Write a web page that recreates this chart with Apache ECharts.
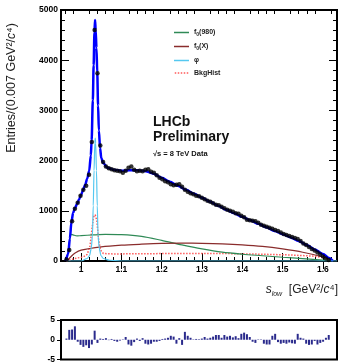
<!DOCTYPE html>
<html>
<head>
<meta charset="utf-8">
<script src="https://cdn.jsdelivr.net/npm/echarts@6/dist/echarts.min.js"></script>
<style>
  html, body { margin: 0; padding: 0; background: #fff; }
  #chart { width: 341px; height: 364px; }
</style>
</head>
<body>
<div id="chart"></div>
<script>
// histogram binning (0.007 GeV^2/c^4 per bin, as on the y title)
const BIN_LO = 0.96
const BIN_W = 0.007

// data entries per bin
const dataV = [
  30, 220, 790, 1040, 1160, 1300, 1420, 1500, 1720, 2370,
  4600, 3740, 2300, 1970, 1880, 1850, 1830, 1810, 1800, 1790,
  1760, 1800, 1860, 1880, 1820, 1790, 1800, 1790, 1820, 1830,
  1780, 1760, 1710, 1660, 1630, 1590, 1570, 1530, 1510, 1520,
  1530, 1480, 1420, 1380, 1350, 1330, 1300, 1290, 1260, 1230,
  1200, 1180, 1150, 1120, 1110, 1080, 1050, 1020, 1000, 980,
  950, 940, 900, 870, 820, 810, 800, 790, 760, 720,
  700, 680, 660, 640, 620, 600, 570, 540, 520, 500,
  480, 460, 440, 400, 350, 320, 280, 240, 210, 170,
  130, 90, 50, 20,
]

// pull per bin (bottom panel)
const pullV = [
  0.3, 2.5, 2.6, 3.4, -0.5, -1.3, -1.8, -1.4, -2.1, -1.2,
  2.3, -0.8, 0.3, 0.2, 0.4, -0.1, 0.2, -0.3, -0.5, -0.2,
  0.1, 0.7, -1.2, -1.5, -0.6, 0.3, -0.3, 0.4, -1.0, -1.2,
  -1.0, -0.5, -0.5, -0.3, 0.2, 0.3, 0.5, 1.0, 0.8, -1.0,
  0.4, -1.3, 2.0, 1.0, 0.5, 0.1, 0.2, 0.1, 0.3, 0.7,
  0.3, 0.5, 0.8, 1.2, 1.2, 0.5, 1.2, 0.8, 1.0, 0.6,
  0.9, 0.4, 1.5, 1.8, 1.4, 0.7, -0.5, -0.8, 0.1, 0.1,
  -1.0, -1.2, -1.2, 1.0, 1.5, -0.6, -1.0, -0.8, -1.0, -0.7,
  -0.9, -1.0, 1.5, 0.5, 0.3, -1.0, -1.3, -1.2, -0.3, -1.2,
  -0.8, -0.5, 0.5, 1.2,
]

// total fit (blue)
const fitS = [0.962, 0.968, 0.972, 0.976, 0.980, 0.985, 0.990, 0.995, 1.000, 1.005,
  1.010, 1.015, 1.020, 1.024, 1.026, 1.029, 1.031, 1.033, 1.0345, 1.036,
  1.038, 1.040, 1.042, 1.044, 1.047, 1.050, 1.055, 1.065, 1.08, 1.10,
  1.12, 1.14, 1.16, 1.18, 1.20, 1.22, 1.24, 1.26, 1.28, 1.30,
  1.32, 1.34, 1.36, 1.38, 1.40, 1.42, 1.44, 1.46, 1.48, 1.50,
  1.52, 1.54, 1.56, 1.58, 1.60, 1.615, 1.625]
const fitV = [0, 150, 450, 780, 960, 1060, 1140, 1230, 1320, 1420,
  1520, 1640, 1800, 2100, 2400, 3200, 3900, 4550, 4800, 4600,
  4250, 3750, 3100, 2600, 2250, 2050, 1950, 1860, 1820, 1800,
  1810, 1810, 1790, 1740, 1660, 1580, 1500, 1420, 1340, 1260,
  1180, 1100, 1020, 950, 880, 810, 740, 670, 600, 535,
  470, 400, 320, 230, 140, 60, 0]

// f0(980) component
const f980S = [0.963, 0.968, 0.972, 0.976, 0.980, 0.990, 1.00, 1.03, 1.06, 1.10,
  1.15, 1.20, 1.25, 1.30, 1.35, 1.40, 1.45, 1.50, 1.55, 1.60, 1.625]
const f980V = [0, 200, 450, 530, 520, 500, 505, 520, 530, 525,
  490, 410, 320, 240, 175, 135, 105, 75, 48, 18, 0]

// f0(X) component
const fXS = [0.965, 0.975, 0.985, 1.00, 1.05, 1.10, 1.15, 1.20, 1.25, 1.30,
  1.35, 1.40, 1.45, 1.50, 1.55, 1.60, 1.625]
const fXV = [0, 90, 160, 215, 280, 315, 335, 350, 355, 352,
  342, 322, 290, 240, 175, 80, 0]

// phi component
const phiS = [0.963, 1.000, 1.015, 1.021, 1.025, 1.028, 1.030, 1.032, 1.034, 1.035,
  1.036, 1.038, 1.040, 1.042, 1.045, 1.049, 1.055, 1.07, 1.10, 1.635]
const phiV = [0, 0, 50, 110, 250, 500, 1100, 1800, 2350, 2450,
  2350, 1800, 1100, 500, 250, 110, 50, 15, 0, 0]

// background histogram
const bkgS = [0.963, 0.975, 0.990, 1.005, 1.015, 1.022, 1.027, 1.031, 1.035, 1.039,
  1.043, 1.048, 1.055, 1.08, 1.15, 1.25, 1.35, 1.45, 1.52, 1.58, 1.61, 1.625]
const bkgV = [0, 30, 60, 80, 130, 300, 650, 880, 920, 800,
  450, 220, 150, 140, 145, 150, 150, 135, 120, 95, 60, 20]

const xMajor = [1.0, 1.1, 1.2, 1.3, 1.4, 1.5, 1.6]
const xMinor = [0.96, 0.98, 1.02, 1.04, 1.06, 1.08, 1.12, 1.14, 1.16, 1.18, 1.22, 1.24,
  1.26, 1.28, 1.32, 1.34, 1.36, 1.38, 1.42, 1.44, 1.46, 1.48, 1.52, 1.54, 1.56, 1.58, 1.62]

const X_MIN = 0.95
const X_MAX = 1.635
const FONT = 'Liberation Sans, Arial, sans-serif'
const DOTTED_ICON = 'path://M0,0h1.5v1.5h-1.5zM3,0h1.5v1.5h-1.5zM6,0h1.5v1.5h-1.5zM9,0h1.5v1.5h-1.5zM12,0h1.5v1.5h-1.5z'

const pairs = (xs, ys) => xs.map((x, i) => [x, ys[i]])
const binCenter = i => +(BIN_LO + BIN_W * (i + 0.5)).toFixed(4)

const chart = echarts.init(document.getElementById('chart'))

const tickLabel = { fontFamily: FONT, fontSize: 8.5, fontWeight: 'bold', color: '#000' }

function xAxisBase(grid, pos, values, len) {
  return {
    type: 'value', gridIndex: grid, position: pos, min: X_MIN, max: X_MAX,
    axisLine: { show: false },
    axisTick: { show: true, inside: true, length: len, customValues: values, lineStyle: { color: '#000', width: 1 } },
    axisLabel: { show: false },
    splitLine: { show: false },
  }
}

function yMain(pos, labels) {
  return {
    type: 'value', gridIndex: 0, position: pos, min: 0, max: 5000, interval: 1000,
    axisLine: { show: false },
    axisTick: { show: true, inside: true, length: 8, lineStyle: { color: '#000', width: 1 } },
    minorTick: { show: true, splitNumber: 5, length: 4, lineStyle: { color: '#000', width: 1 } },
    axisLabel: labels ? { show: true, margin: 3, formatter: v => String(v), ...tickLabel } : { show: false },
    splitLine: { show: false },
  }
}

const legendNames = { 'f0(980)': '{t|f}{s|0}{t|(980)}', 'f0(X)': '{t|f}{s|0}{t|(X)}', 'φ': '{t|φ}', 'BkgHist': '{t|BkgHist}' }

const baseGraphics = [
  {
    type: 'text', x: 12, y: 88, rotation: Math.PI / 2,
    style: {
      text: '{n|Entries/(0.007 GeV²/}{i|c}{n|⁴)}',
      textAlign: 'center', textVerticalAlign: 'middle',
      rich: {
        n: { fontFamily: FONT, fontSize: 12.5, fill: '#222' },
        i: { fontFamily: FONT, fontSize: 12.5, fontStyle: 'italic', fill: '#222' },
      },
    },
  },
  {
    type: 'text', x: 338, y: 290,
    style: {
      text: '{i|s}{sub|low}{n|  [GeV²/}{i|c}{n|⁴]}',
      textAlign: 'right', textVerticalAlign: 'middle',
      rich: {
        n: { fontFamily: FONT, fontSize: 12, fill: '#222', lineHeight: 16 },
        i: { fontFamily: FONT, fontSize: 12, fontStyle: 'italic', fill: '#222', lineHeight: 16 },
        sub: { fontFamily: FONT, fontSize: 7, fontStyle: 'italic', fill: '#222', verticalAlign: 'bottom', lineHeight: 16 },
      },
    },
  },
  { type: 'text', x: 153, y: 122, style: { text: 'LHCb', font: 'bold 14px ' + FONT, fill: '#111', textVerticalAlign: 'middle' } },
  { type: 'text', x: 153, y: 137, style: { text: 'Preliminary', font: 'bold 14px ' + FONT, fill: '#111', textVerticalAlign: 'middle' } },
  { type: 'text', x: 153, y: 154, style: { text: '√s = 8 TeV Data', font: 'bold 7.5px ' + FONT, fill: '#111', textVerticalAlign: 'middle' } },
]

const option = {
  animation: false,
  backgroundColor: '#fff',
  grid: [
    { left: 61, right: 4, top: 10, height: 251, show: true, borderColor: '#000', borderWidth: 2, backgroundColor: 'transparent' },
    { left: 61, right: 4, top: 320, height: 43, show: true, borderColor: '#000', borderWidth: 2, backgroundColor: 'transparent' },
    { left: 61, right: 4, top: 10, height: 251 },
  ],
  xAxis: [
    xAxisBase(0, 'bottom', xMajor, 8),
    xAxisBase(0, 'top', xMajor, 8),
    xAxisBase(2, 'bottom', xMinor, 4),
    xAxisBase(2, 'top', xMinor, 4),
    { type: 'value', gridIndex: 1, min: X_MIN, max: X_MAX, show: false },
  ],
  yAxis: [
    yMain('left', true),
    yMain('right', false),
    {
      type: 'value', gridIndex: 1, min: -5, max: 5, interval: 5,
      axisLine: { show: false },
      axisTick: { show: true, length: 4, lineStyle: { color: '#000' } },
      axisLabel: { show: true, margin: 6, formatter: v => String(v), ...tickLabel },
      splitLine: { show: false },
    },
    { type: 'value', gridIndex: 2, min: 0, max: 5000, show: false },
  ],
  legend: {
    orient: 'vertical', left: 174, top: 29, padding: 0,
    itemWidth: 15, itemHeight: 1.5, itemGap: 5.5,
    data: [
      { name: 'f0(980)', icon: 'rect' },
      { name: 'f0(X)', icon: 'rect' },
      { name: 'φ', icon: 'rect' },
      { name: 'BkgHist', icon: DOTTED_ICON },
    ],
    formatter: name => legendNames[name],
    textStyle: {
      fontFamily: FONT, fontSize: 7, fontWeight: 'bold', color: '#222',
      rich: {
        t: { fontFamily: FONT, fontSize: 7, fontWeight: 'bold', color: '#222', lineHeight: 10 },
        s: { fontFamily: FONT, fontSize: 5, fontWeight: 'bold', color: '#222', verticalAlign: 'bottom', lineHeight: 10 },
      },
    },
  },
  graphic: baseGraphics,
  series: [
    {
      name: 'BkgHist', type: 'line', xAxisIndex: 0, yAxisIndex: 0, symbol: 'none',
      data: pairs(bkgS, bkgV), lineStyle: { type: 'dotted', color: '#ff5a5a', width: 1.5 },
      itemStyle: { color: '#ff5a5a' }, z: 2,
    },
    {
      name: 'f0(980)', type: 'line', xAxisIndex: 0, yAxisIndex: 0, symbol: 'none', smooth: 0.3,
      data: pairs(f980S, f980V), lineStyle: { color: '#2f8a56', width: 1.2 }, itemStyle: { color: '#2f8a56' }, z: 2,
    },
    {
      name: 'f0(X)', type: 'line', xAxisIndex: 0, yAxisIndex: 0, symbol: 'none', smooth: 0.3,
      data: pairs(fXS, fXV), lineStyle: { color: '#8a2c2c', width: 1.2 }, itemStyle: { color: '#8a2c2c' }, z: 2,
    },
    {
      name: 'fit', type: 'line', xAxisIndex: 0, yAxisIndex: 0, symbol: 'none', smooth: 0.3, smoothMonotone: 'x',
      data: pairs(fitS, fitV), lineStyle: { color: '#0000ff', width: 2.5 }, z: 3,
    },
    {
      name: 'φ', type: 'line', xAxisIndex: 0, yAxisIndex: 0, symbol: 'none', smooth: 0.3, smoothMonotone: 'x',
      data: pairs(phiS, phiV), lineStyle: { color: '#55c8f0', width: 1.2 }, itemStyle: { color: '#55c8f0' }, z: 4,
    },
    {
      name: 'data', type: 'scatter', xAxisIndex: 0, yAxisIndex: 0, symbol: 'circle', symbolSize: 4.5,
      data: dataV.map((v, i) => [binCenter(i), v]), itemStyle: { color: '#000' }, z: 5,
    },
    {
      name: 'pull', type: 'bar', xAxisIndex: 4, yAxisIndex: 2, barWidth: 2,
      data: pullV.map((v, i) => [binCenter(i), v]), itemStyle: { color: '#2a2a8c' },
    },
  ],
}

chart.setOption(option)

// x tick labels placed through the axis scale (the axis' own first label kept getting dropped)
const xLabels = xMajor.map(v => {
  const [px, py] = chart.convertToPixel({ xAxisIndex: 0, yAxisIndex: 0 }, [v, 0])
  return {
    type: 'text', x: px, y: py + 4,
    style: { text: String(v), textAlign: 'center', textVerticalAlign: 'top', font: 'bold 8.5px ' + FONT, fill: '#000' },
  }
})
chart.setOption({ graphic: baseGraphics.concat(xLabels) })
</script>
</body>
</html>
